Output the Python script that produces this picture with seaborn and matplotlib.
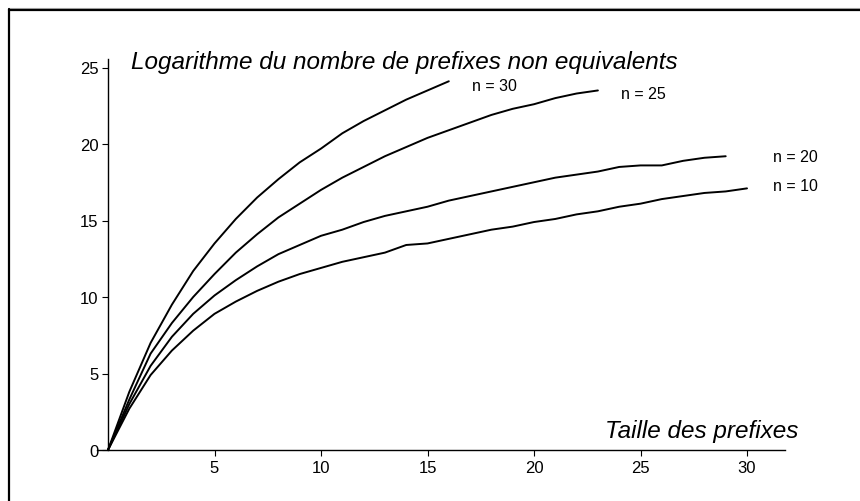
import numpy as np
import pandas as pd
import matplotlib
matplotlib.use("Agg")
import matplotlib.pyplot as plt
import seaborn as sns
from matplotlib.lines import Line2D
from matplotlib.ticker import MultipleLocator

# ---- data ----
n30_x = list(range(0, 17))
n30_y = [0, 3.8, 7.0, 9.5, 11.7, 13.5, 15.1, 16.5, 17.7, 18.8, 19.7, 20.7, 21.5,
         22.2, 22.9, 23.5, 24.1]
n25_x = list(range(0, 24))
n25_y = [0, 3.3, 6.3, 8.3, 10.0, 11.5, 12.9, 14.1, 15.2, 16.1, 17.0, 17.8, 18.5,
         19.2, 19.8, 20.4, 20.9, 21.4, 21.9, 22.3, 22.6, 23.0, 23.3, 23.5]
n20_x = list(range(0, 30))
n20_y = [0, 3.0, 5.5, 7.4, 8.9, 10.1, 11.1, 12.0, 12.8, 13.4, 14.0, 14.4, 14.9,
         15.3, 15.6, 15.9, 16.3, 16.6, 16.9, 17.2, 17.5, 17.8, 18.0, 18.2, 18.5,
         18.6, 18.6, 18.9, 19.1, 19.2]
n10_x = list(range(0, 31))
n10_y = [0, 2.7, 4.9, 6.5, 7.8, 8.9, 9.7, 10.4, 11.0, 11.5, 11.9, 12.3, 12.6,
         12.9, 13.4, 13.5, 13.8, 14.1, 14.4, 14.6, 14.9, 15.1, 15.4, 15.6, 15.9,
         16.1, 16.4, 16.6, 16.8, 16.9, 17.1]

series_names = ["n = 30", "n = 25", "n = 20", "n = 10"]
label_pos = {"n = 30": (17.1, 23.8), "n = 25": (24.1, 23.3),
             "n = 20": (31.2, 19.2), "n = 10": (31.2, 17.3)}
y_title = "Logarithme du nombre de prefixes non equivalents"
x_title = "Taille des prefixes"
x_ticks = [5, 10, 15, 20, 25, 30]
y_ticks = [0, 5, 10, 15, 20, 25]

frames = []
for name, xs, ys in zip(series_names, [n30_x, n25_x, n20_x, n10_x],
                        [n30_y, n25_y, n20_y, n10_y]):
    frames.append(pd.DataFrame({"taille": xs, "log": ys, "n": name}))
df = pd.concat(frames, ignore_index=True)

sns.set_style("white")
plt.rcParams["font.family"] = ["Liberation Sans", "DejaVu Sans"]
plt.rcParams["text.color"] = "black"
plt.rcParams["xtick.color"] = "black"
plt.rcParams["ytick.color"] = "black"
plt.rcParams["axes.labelcolor"] = "black"

W, H = 860, 502
fig = plt.figure(figsize=(W / 100, H / 100), dpi=100)

x_min, x_max = -0.5, 31.8
y_min, y_max = 0, 25.55
px_origin_x, px_origin_y = 108, 451
ppx = 21.3
ppy = 15.3
left_px = px_origin_x + x_min * ppx
right_px = px_origin_x + x_max * ppx
top_px = px_origin_y - y_max * ppy
ax = fig.add_axes([left_px / W, (H - px_origin_y) / H,
                   (right_px - left_px) / W, (px_origin_y - top_px) / H])

sns.lineplot(data=df, x="taille", y="log", hue="n", units="n", estimator=None,
             palette={k: "black" for k in series_names}, linewidth=1.4,
             legend=False, ax=ax, sort=True)

ax.set_xlim(x_min, x_max)
ax.set_ylim(y_min, y_max)
ax.set_xlabel("")
ax.set_ylabel("")
ax.spines["top"].set_visible(False)
ax.spines["right"].set_visible(False)
ax.spines["left"].set_position(("data", 0))
ax.spines["bottom"].set_position(("data", 0))
for s in ("left", "bottom"):
    ax.spines[s].set_linewidth(1.0)
    ax.spines[s].set_color("black")

ax.set_xticks(x_ticks)
ax.set_yticks(y_ticks)
ax.xaxis.set_minor_locator(MultipleLocator(1))
ax.yaxis.set_minor_locator(MultipleLocator(1))
ax.tick_params(axis="both", which="major", direction="out", length=4, width=0.8,
               labelsize=12, colors="black", pad=3)
ax.tick_params(axis="both", which="minor", direction="out", length=2.5, width=0.8,
               color="black")
ax.tick_params(axis="x", bottom=True)
ax.tick_params(axis="y", left=True)
ax.set_facecolor("none")

for name, (tx, ty) in label_pos.items():
    ax.text(tx, ty, name, ha="left", va="center", fontsize=11.5, color="black",
            clip_on=False)

ax.text(1.08, 25.4, y_title, ha="left", va="center", fontsize=17.5,
        style="italic", color="black", clip_on=False)
ax.text(32.4, 1.3, x_title, ha="right", va="center", fontsize=17.5,
        style="italic", color="black", clip_on=False)

# page frame (top and left edges)
fig.add_artist(Line2D([8 / W, 1], [1 - 9 / H, 1 - 9 / H], color="#b0b0b0",
                      linewidth=0.8, transform=fig.transFigure))
fig.add_artist(Line2D([8.5 / W, 1], [1 - 11 / H, 1 - 11 / H], color="black",
                      linewidth=1.6, transform=fig.transFigure))
fig.add_artist(Line2D([9 / W, 9 / W], [0, 1 - 10 / H], color="black",
                      linewidth=1.6, transform=fig.transFigure))

fig.savefig("out.png", dpi=100, facecolor="white")
